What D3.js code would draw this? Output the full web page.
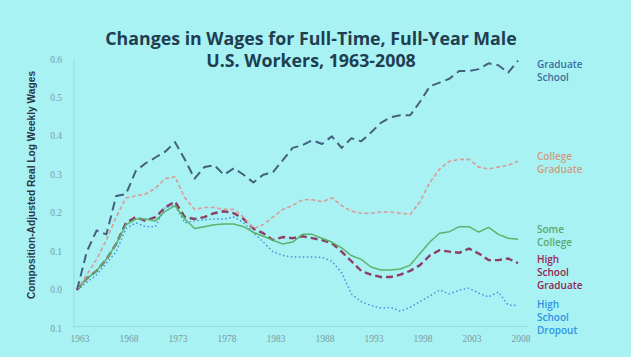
<!DOCTYPE html>
<html><head><meta charset="utf-8">
<script src="https://cdn.jsdelivr.net/npm/d3@7"></script>
<style>
html,body{margin:0;padding:0;background:#a9f2f4;}
svg{display:block;}
</style></head>
<body>
<svg id="chart" width="631" height="357"></svg>
<script>
const years = d3.range(1963, 2009);
const gradSchool = [0.0,0.10,0.155,0.145,0.245,0.25,0.31,0.33,0.345,0.36,0.385,0.34,0.29,0.32,0.325,0.30,0.317,0.30,0.28,0.30,0.307,0.338,0.37,0.377,0.39,0.38,0.40,0.37,0.395,0.387,0.41,0.435,0.45,0.455,0.455,0.49,0.53,0.54,0.55,0.57,0.57,0.575,0.59,0.585,0.566,0.597];
const collegeGrad = [0.0,0.04,0.08,0.13,0.19,0.24,0.245,0.25,0.265,0.29,0.295,0.24,0.21,0.215,0.215,0.21,0.21,0.19,0.16,0.17,0.19,0.21,0.22,0.235,0.235,0.23,0.24,0.22,0.205,0.20,0.20,0.203,0.203,0.20,0.197,0.23,0.28,0.315,0.335,0.34,0.34,0.32,0.315,0.32,0.325,0.335];
const someCollege = [0.0,0.03,0.05,0.08,0.12,0.17,0.185,0.185,0.18,0.205,0.22,0.185,0.16,0.165,0.17,0.172,0.172,0.165,0.15,0.14,0.13,0.12,0.125,0.145,0.145,0.135,0.125,0.11,0.09,0.08,0.06,0.052,0.052,0.055,0.065,0.095,0.125,0.148,0.152,0.165,0.165,0.151,0.163,0.145,0.135,0.132];
const hsGrad = [0.0,0.03,0.05,0.08,0.12,0.175,0.19,0.18,0.19,0.215,0.23,0.19,0.185,0.19,0.20,0.205,0.20,0.185,0.16,0.148,0.13,0.138,0.135,0.14,0.135,0.13,0.122,0.10,0.075,0.05,0.04,0.034,0.034,0.04,0.05,0.065,0.09,0.104,0.10,0.097,0.108,0.095,0.078,0.078,0.082,0.07];
const hsDropout = [0.0,0.02,0.04,0.07,0.10,0.16,0.175,0.165,0.165,0.215,0.22,0.175,0.18,0.183,0.185,0.185,0.19,0.175,0.15,0.125,0.10,0.09,0.086,0.086,0.086,0.085,0.075,0.045,-0.01,-0.03,-0.04,-0.047,-0.045,-0.055,-0.045,-0.03,-0.015,0.0,-0.01,0.0,0.005,-0.008,-0.018,-0.005,-0.039,-0.04];
const xTicks = [1963,1968,1973,1978,1983,1988,1993,1998,2003,2008];
const yTicks = [-0.1,0.0,0.1,0.2,0.3,0.4,0.5,0.6];
const yTickLabels = ["0.1","0.0","0.1","0.2","0.3","0.4","0.5","0.6"];
const seriesNames = [["Graduate","School"],["College","Graduate"],["Some","College"],["High","School","Graduate"],["High","School","Dropout"]];
const titleLines = ["Changes in Wages for Full-Time, Full-Year Male","U.S. Workers, 1963-2008"];
const yAxisTitle = "Composition-Adjusted Real Log Weekly Wages";

const series = [
  {values: gradSchool, stroke:"#44607c", width:2, dash:"9,5", text:"#3d6e9c", labelY:68},
  {values: collegeGrad, stroke:"#d79b98", width:1.6, dash:"4,2.5", text:"#d09c7c", labelY:160},
  {values: someCollege, stroke:"#5cb36a", width:1.5, dash:null, text:"#5aa86c", labelY:233},
  {values: hsGrad, stroke:"#8b3f63", width:2.4, dash:"7,4", text:"#962553", labelY:263},
  {values: hsDropout, stroke:"#3a8ee0", width:1.4, dash:"1.5,2.5", text:"#2e93e4", labelY:308}
];

const svg = d3.select("#chart");
const x = d3.scaleLinear().domain([1963,2008]).range([77,518]);
const y = d3.scaleLinear().domain([-0.1,0.6]).range([328.5,59.5]);

// title
svg.append("g").selectAll("text").data(titleLines).join("text")
  .attr("x",311).attr("y",(d,i)=>45+i*22)
  .attr("text-anchor","middle")
  .attr("font-family","Open Sans, sans-serif").attr("font-weight","bold")
  .attr("font-size",17.8).attr("fill","#203e50")
  .text(d=>d);

// axes lines
svg.append("line").attr("x1",74).attr("x2",74).attr("y1",y(0.6)).attr("y2",y(-0.1))
  .attr("stroke","#92dbe2").attr("stroke-width",1);
svg.append("line").attr("x1",74).attr("x2",528).attr("y1",y(-0.1)-2).attr("y2",y(-0.1)-2)
  .attr("stroke","#92dbe2").attr("stroke-width",1);

// y ticks
svg.append("g").selectAll("text").data(yTicks).join("text")
  .attr("x",62).attr("y",d=>y(d)+3)
  .attr("text-anchor","end")
  .attr("font-family","Liberation Serif, serif").attr("font-size",9.5).attr("fill","#7c9aa0")
  .text((d,i)=>yTickLabels[i]);

// x ticks
svg.append("g").selectAll("text").data(xTicks).join("text")
  .attr("x",d=>x(d)+3).attr("y",342)
  .attr("text-anchor","middle")
  .attr("font-family","Liberation Serif, serif").attr("font-size",9.5).attr("fill","#7c9aa0")
  .text(d=>d);

// y title
svg.append("text")
  .attr("transform","translate(35,185) rotate(-90)")
  .attr("text-anchor","middle")
  .attr("font-family","Liberation Sans Narrow, Liberation Sans, sans-serif").attr("font-weight","bold")
  .attr("font-size",10.2).attr("fill","#2a3848")
  .text(yAxisTitle);

// lines
const line = d3.line().x((d,i)=>x(years[i])).y(d=>y(d));
series.slice().reverse().forEach(s=>{
  svg.append("path").datum(s.values)
    .attr("d",line).attr("fill","none")
    .attr("stroke",s.stroke).attr("stroke-width",s.width)
    .attr("stroke-dasharray",s.dash)
    .attr("stroke-linejoin","round");
});

// labels
series.forEach((s,k)=>{
  svg.append("g").selectAll("text").data(seriesNames[k]).join("text")
    .attr("x",537).attr("y",(d,i)=>s.labelY + i*13)
    .attr("font-family","Open Sans, sans-serif").attr("font-weight","600")
    .attr("font-size",10).attr("fill",s.text)
    .text(d=>d);
});
</script>
</body></html>
